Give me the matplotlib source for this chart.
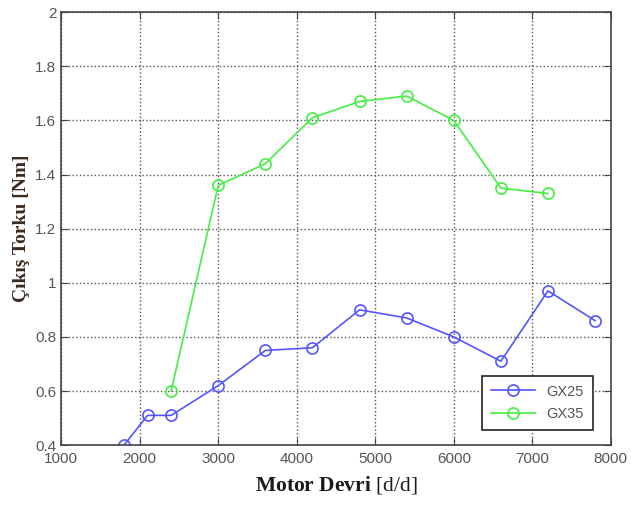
import matplotlib
matplotlib.use('Agg')
import matplotlib.pyplot as plt

plt.rcParams['mathtext.fontset'] = 'custom'
plt.rcParams['mathtext.rm'] = 'Liberation Serif'

# GX25 and GX35 output torque vs engine speed
rpm_gx25 = [1800, 2100, 2400, 3000, 3600, 4200, 4800, 5400, 6000, 6600, 7200, 7800]
tork_gx25 = [0.40, 0.51, 0.51, 0.62, 0.75, 0.76, 0.90, 0.87, 0.80, 0.71, 0.97, 0.86]
rpm_gx35 = [2400, 3000, 3600, 4200, 4800, 5400, 6000, 6600, 7200]
tork_gx35 = [0.60, 1.36, 1.44, 1.61, 1.67, 1.69, 1.60, 1.35, 1.33]

xticks = [1000, 2000, 3000, 4000, 5000, 6000, 7000, 8000]
yticks = [0.4, 0.6, 0.8, 1.0, 1.2, 1.4, 1.6, 1.8, 2.0]
ytick_labels = ['0.4', '0.6', '0.8', '1', '1.2', '1.4', '1.6', '1.8', '2']

fig = plt.figure(figsize=(6.31, 5.07), dpi=100)
ax = fig.add_axes([0.097, 0.122, 0.871, 0.854])

ax.plot(rpm_gx25, tork_gx25, '-o', color='#5555ff', mfc='none', mec='#5555ff',
        ms=8, lw=1.2, mew=1.2, label='GX25')
ax.plot(rpm_gx35, tork_gx35, '-o', color='#44ee44', mfc='none', mec='#44ee44',
        ms=8, lw=1.2, mew=1.2, label='GX35')

ax.set_xlim(1000, 8000)
ax.set_ylim(0.4, 2.0)
ax.set_xticks(xticks)
ax.set_yticks(yticks)
ax.set_yticklabels(ytick_labels)
ax.grid(True, linestyle=':', color='#555555', lw=1.0)
ax.tick_params(direction='in', top=True, right=True, length=5, colors='#444444',
               labelsize=11, labelcolor='#555555')
ax.tick_params(axis='x', pad=5)
for lab in ax.get_xticklabels() + ax.get_yticklabels():
    lab.set_family('Liberation Sans')
for s in ax.spines.values():
    s.set_color('#444444')
    s.set_linewidth(1.2)

ax.set_ylabel('Çıkış Torku [Nm]', family='Liberation Serif', fontweight='bold',
              fontsize=14, color='#3a2a20', labelpad=4)
ax.set_xlabel(r'Motor Devri $\mathrm{[d/d]}$', family='Liberation Serif',
              fontweight='bold', fontsize=15.5, color='#1a1a1a', labelpad=6)

leg = ax.legend(loc='lower right', bbox_to_anchor=(0.98, 0.018), fancybox=False,
                edgecolor='#222222', framealpha=1, prop={'family': 'Liberation Sans', 'size': 10.5},
                handlelength=3, borderpad=0.6, labelspacing=0.6)
leg.get_frame().set_linewidth(1.2)
for t in leg.get_texts():
    t.set_color('#555555')

fig.savefig('out.png', dpi=100)
